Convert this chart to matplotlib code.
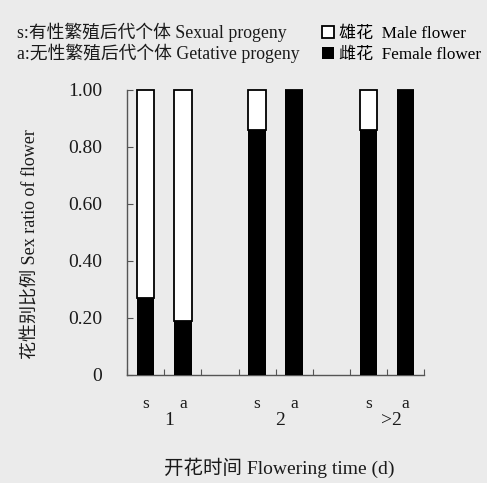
import numpy as np
import matplotlib.pyplot as plt
from matplotlib.transforms import blended_transform_factory

plt.rcParams['font.family'] = ['Liberation Serif', 'Noto Sans CJK SC']

# data
groups = ['1', '2', '>2']
sub_labels = ['s', 'a']
positions = [0.5, 1.5, 3.5, 4.5, 6.5, 7.5]
female = [0.27, 0.19, 0.86, 1.00, 0.86, 1.00]
male = [1 - f for f in female]
yticks = [0, 0.2, 0.4, 0.6, 0.8, 1.0]
ytick_labels = ['0', '0.20', '0.40', '0.60', '0.80', '1.00']

bg = '#ebebeb'
fig = plt.figure(figsize=(4.87, 4.83), dpi=100, facecolor=bg)
ax = fig.add_axes([0.261, 0.224, 0.610, 0.590])
ax.set_facecolor(bg)

b_f = ax.bar(positions, female, width=0.47, color='black', edgecolor='black',
             linewidth=0, label='雌花  Female flower', clip_on=False, zorder=3)
b_m = ax.bar(positions, male, bottom=female, width=0.47, color='white',
             edgecolor='black', linewidth=1.3, label='雄花  Male flower',
             clip_on=False, zorder=3)

ax.set_xlim(0, 8)
ax.set_ylim(0, 1.0)

for s in ['top', 'right']:
    ax.spines[s].set_visible(False)
for s in ['left', 'bottom']:
    ax.spines[s].set_color('#555555')
    ax.spines[s].set_linewidth(1)

ax.set_yticks(yticks)
ax.set_yticklabels(ytick_labels)
ax.tick_params(axis='y', direction='in', length=4, width=0.8, color='#555555',
               pad=18, labelsize=14, labelcolor='#1a1a1a')

ax.set_xticks(np.arange(0, 9))
ax.set_xticklabels([])
ax.tick_params(axis='x', which='major', direction='in', length=4, width=0.8,
               color='#555555')
ax.set_xticks(positions, minor=True)
ax.set_xticklabels(sub_labels * len(groups), minor=True)
ax.tick_params(axis='x', which='minor', length=0, pad=15, labelsize=12.5,
               labelcolor='#1a1a1a')

trans = blended_transform_factory(ax.transData, ax.transAxes)
for i, g in enumerate(groups):
    cx = np.mean(positions[2 * i:2 * i + 2]) + 0.12
    ax.text(cx, -0.16, g, transform=trans, ha='center', va='center',
            fontsize=14, color='#1a1a1a')

ax.set_xlabel('开花时间 Flowering time (d)', fontsize=14, color='#1a1a1a')
ax.xaxis.set_label_coords(0.512, -0.29)
ax.set_ylabel('花性别比例 Sex ratio of flower', fontsize=13, color='#1a1a1a')
ax.yaxis.set_label_coords(-0.293, 0.46)

fig.text(0.035, 0.934, 's:有性繁殖后代个体 Sexual progeny', fontsize=12.8,
         va='center', color='#1a1a1a')
fig.text(0.035, 0.890, 'a:无性繁殖后代个体 Getative progeny', fontsize=12.8,
         va='center', color='#1a1a1a')

fig.legend(handles=[b_m, b_f], loc='upper left',
           bbox_to_anchor=(0.662, 0.946), frameon=False, fontsize=12.3,
           handlelength=0.7, handleheight=0.7, handletextpad=0.3,
           labelspacing=0.3, borderaxespad=0, borderpad=0)

fig.savefig('out.png', dpi=100, facecolor=bg)
